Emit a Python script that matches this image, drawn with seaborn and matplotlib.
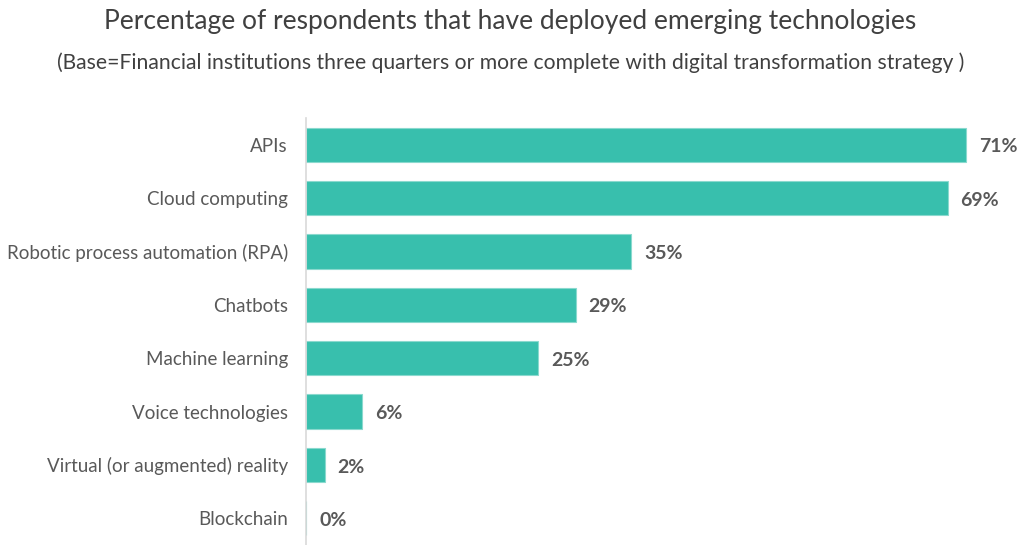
import matplotlib.pyplot as plt
import pandas as pd
import seaborn as sns

categories = [
    "APIs",
    "Cloud computing",
    "Robotic process automation (RPA)",
    "Chatbots",
    "Machine learning",
    "Voice technologies",
    "Virtual (or augmented) reality",
    "Blockchain",
]
values = [71, 69, 35, 29, 25, 6, 2, 0]

title = "Percentage of respondents that have deployed emerging technologies"
subtitle = "(Base=Financial institutions three quarters or more complete with digital transformation strategy )"

BAR_COLOR = "#38bfad"
TEXT_COLOR = "#595959"

sns.set_style("white")
plt.rcParams["font.family"] = ["Lato", "DejaVu Sans"]

df = pd.DataFrame({"tech": categories, "pct": values})

fig = plt.figure(figsize=(10.21, 5.45), dpi=100)
ax = fig.add_axes([306 / 1021, 0.0, 715 / 1021, (545 - 118) / 545])

sns.barplot(
    data=df, x="pct", y="tech", orient="h", color=BAR_COLOR,
    width=0.64, edgecolor="#8ad9ce", linewidth=0.8, ax=ax, saturation=1,
)

for i, v in enumerate(values):
    ax.text(v + 1.4, i + 0.04, f"{v}%", va="center", ha="left",
            fontsize=14, fontweight="bold", color=TEXT_COLOR)

ax.set_xlim(0, 76.9)
ax.set_ylim(7.5, -0.5)
ax.set_xlabel("")
ax.set_ylabel("")
ax.set_xticks([])
ax.tick_params(axis="y", length=0, pad=13, labelsize=13.5, labelcolor=TEXT_COLOR)
for side in ["top", "right", "bottom"]:
    ax.spines[side].set_visible(False)
ax.spines["left"].set_color("#d9d9d9")
ax.spines["left"].set_linewidth(1.2)

fig.text(0.5, 1 - 21 / 545, title, ha="center", va="center",
         fontsize=19, color="#404040")
fig.text(0.5, 1 - 63 / 545, subtitle, ha="center", va="center",
         fontsize=15.2, color="#404040")

fig.savefig("out.png", dpi=100)
